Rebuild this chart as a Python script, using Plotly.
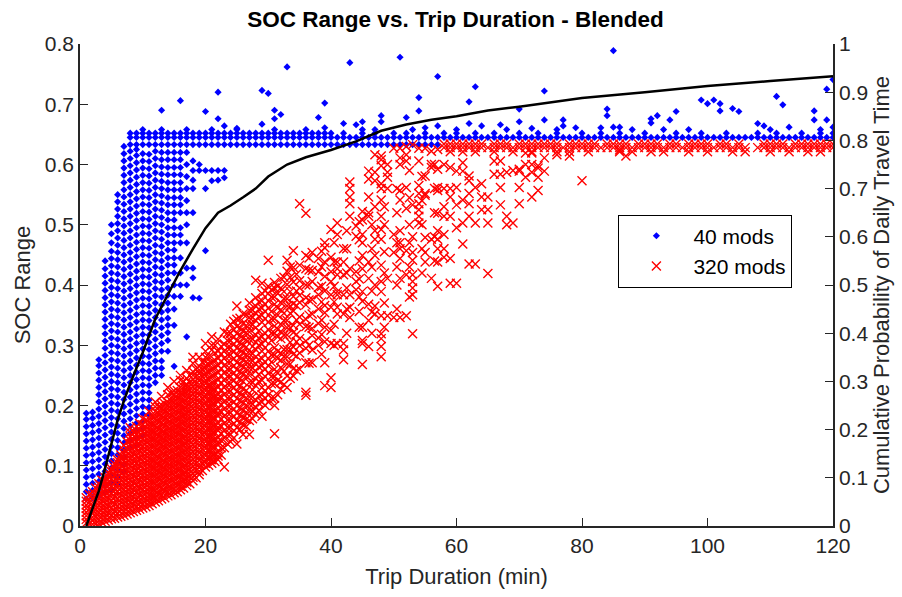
import plotly.graph_objects as go

# ---------------- data ----------------
# 40 mods: dense columns, one string of SOC values (x1000) per trip duration (min)
blue_col_x = list(range(1, 24))
blue_col_y = [
    "45 57 69 81 93 105 117 129 141 153 165 177 187",
    "47 59 71 83 95 107 119 131 143 155 167 179 189",
    "50 62 74 86 98 110 122 134 146 158 170 182 194 206 218 230 242 254 266 276",
    "55 67 79 91 103 115 127 139 151 163 175 187 199 211 223 235 247 259 271 283 295 307 319 331 343 355 367 379 391 403 415 427 440",
    "60 72 84 96 108 120 132 144 156 168 180 192 204 216 228 240 252 264 276 288 300 312 324 336 348 360 372 384 396 408 420 432 444 456 470 485 500",
    "70 82 94 106 118 130 142 154 166 178 190 202 214 226 238 250 262 274 286 298 310 322 334 346 358 370 382 394 406 418 430 442 454 466 478 490 502 514 526 538 550",
    "90 102 114 126 138 150 162 174 186 198 210 222 234 246 258 270 282 294 306 318 330 342 354 366 378 390 402 414 426 438 450 462 474 486 498 510 522 534 546 558 570 582 594 606 618 630",
    "130 142 154 166 178 190 202 214 226 238 250 262 274 286 298 310 322 334 346 358 370 382 394 406 418 430 442 454 466 478 490 502 514 526 538 550 562 574 586 598 610 622",
    "135 147 159 171 183 195 207 219 231 243 255 267 279 291 303 315 327 339 351 363 375 387 399 411 423 435 447 459 471 483 495 507 519 531 543 555 567 579 591 603 615 625",
    "150 162 174 186 198 210 222 234 246 258 270 282 294 306 318 330 342 354 366 378 390 402 414 426 438 450 462 474 486 498 510 522 534 546 558 570 582 594 606 618",
    "185 197 209 221 233 245 257 269 281 293 305 317 329 341 353 365 377 389 401 413 425 437 449 461 473 485 497 509 521 533 545 557 569 581 593 605 617",
    "238 250 262 274 286 298 310 322 334 346 358 370 382 394 406 418 430 442 454 466 478 490 502 514 526 538 550 562 574 586 598 610 622",
    "250 262 274 290 303 316 329 342 355 367 380 392 404 416 428 440 452 464 476 488 500 512 524 536 548 560 572 584 596 608 620",
    "290 308 321 333 345 358 370 383 395 408 420 433 445 458 470 483 495 508 520 533 545 558 570 583 595 608 620",
    "265 333 360 381 400 420 433 445 458 470 483 495 508 520 533 545 558 570 583 595 608 620",
    "381 400 420 445 470 483 495 520 533 545 558 570 583 595 608 620",
    "314 400 428 470 500 520 540 560 580 600 620",
    "379 412 428 520 560 574 590 606",
    "378 590 600",
    "457 560 590",
    "573 590",
    "574 590",
    "578 590",
]
# 40 mods: plateau band, one SOC level per row with the durations where it occurs
blue_band_y = [0.633, 0.645, 0.652, 0.658]
blue_band_x = [
    "8 9 10 11 12 13 14 15 16 17 18 19 20 21 22 23 24 25 26 27 28 29 30 31 32 33 34 35 36 37 38 39 40 41 42 43 44 45 46 47 48 49 50 51 52 53 54 55 56 57",
    "8 9 10 11 12 13 14 15 16 17 18 19 20 21 22 23 24 25 26 27 28 29 30 31 32 33 34 35 36 37 38 39 40 41 42 43 44 45 46 47 48 49 50 51 52 53 54 55 56 57 "
    "58 59 60 61 62 63 64 65 66 67 68 69 70 71 72 73 74 75 76 77 78 79 80 81 82 83 84 85 86 87 88 89 90 91 92 93 94 95 96 97 98 99 100 101 102 103 104 105 106 107 108 109 110 111 112 113 114 115 116 117 118 119 120",
    "8 9 10 11 12 13 14 15 16 17 18 19 20 21 22 23 24 25 26 27 28 29 30 31 32 33 34 35 36 37 38 39 40 42 45 47 50 52 55 58 60 63 66 70 73 76 80 83 86 90 95 99 103 108 111 115 118 120",
    "10 13 17 21 25 31 36 45 53 60 68 76 88 97 110 118",
]
# 40 mods: isolated points above the plateau
blue_out_x = [16, 13, 20, 22, 22, 23, 25, 29, 30, 31, 32, 31, 29, 33, 38, 39, 39, 42, 43, 44, 45, 48, 48, 47,
              51, 52, 54, 54, 55, 57, 57, 62, 63, 62, 64, 67, 70, 70, 72, 74, 74, 77, 77, 79, 84, 84, 83, 85,
              85, 86, 91, 91, 92, 94, 95, 93, 99, 100, 101, 102, 102, 104, 105, 108, 109, 111, 112, 113,
              117, 117, 119, 119, 120, 120]
blue_out_y = [0.706, 0.690, 0.688, 0.720, 0.676, 0.664, 0.660, 0.723, 0.718, 0.690, 0.683, 0.676, 0.667,
              0.762, 0.678, 0.702, 0.661, 0.668, 0.769, 0.666, 0.671, 0.681, 0.671, 0.658, 0.778, 0.678,
              0.711, 0.689, 0.661, 0.746, 0.664, 0.704, 0.729, 0.668, 0.664, 0.666, 0.692, 0.671, 0.660,
              0.722, 0.674, 0.674, 0.664, 0.661, 0.692, 0.681, 0.661, 0.789, 0.662, 0.662, 0.676, 0.669,
              0.681, 0.674, 0.688, 0.658, 0.707, 0.701, 0.707, 0.701, 0.689, 0.693, 0.688, 0.668, 0.664,
              0.713, 0.699, 0.662, 0.689, 0.674, 0.725, 0.674, 0.741, 0.662]

# 320 mods: one string of SOC values (x1000) per trip duration (min)
red_col_x = list(range(1, 75)) + [76, 78, 80, 86, 87]
red_col_y = [
    "5 11 17 23 29 35 41 47",
    "3 9 15 21 27 33 39 45 51 57",
    "4 10 16 22 28 34 40 46 52 58 64 70",
    "8 14 20 26 32 38 44 50 56 62 68 74 80",
    "12 18 24 30 36 42 48 54 60 66 72 78 84 90 95",
    "15 21 27 33 39 45 51 57 63 69 75 81 87 93 99 105 110",
    "18 24 30 36 42 48 54 60 66 72 78 84 90 96 102 108 114 120 126 134",
    "22 28 34 40 46 52 58 64 70 76 82 88 94 100 106 112 118 124 130 136 142 148 155 163",
    "26 32 38 44 50 56 62 68 74 80 86 92 98 104 110 116 122 128 134 140 146 152 158 165",
    "30 36 42 48 54 60 66 72 78 84 90 96 102 108 114 120 126 132 138 144 150 156 162 168 178",
    "34 40 46 52 58 64 70 76 82 88 94 100 106 112 118 124 130 136 142 148 154 160 166 172 178 190",
    "40 46 52 58 64 70 76 82 88 94 100 106 112 118 124 130 136 142 148 154 160 166 172 178 184 190 198 206",
    "45 51 57 63 69 75 81 87 93 99 105 111 117 123 129 135 141 147 153 159 165 171 177 183 189 195 201 215",
    "50 56 62 68 74 80 86 92 98 104 110 116 122 128 134 140 146 152 158 164 170 176 182 188 194 200 206 218 230",
    "55 61 67 73 79 85 91 97 103 109 115 121 127 133 139 145 151 157 163 169 175 181 187 193 199 205 211 217 224 240",
    "60 66 72 78 84 90 96 102 108 114 120 126 132 138 144 150 156 162 168 174 180 186 192 198 204 210 216 222 230 242 250",
    "67 73 79 85 91 97 103 109 115 121 127 133 139 145 151 157 163 169 175 181 187 193 199 205 211 217 223 229 235 245 258",
    "75 81 87 93 99 105 111 117 123 129 135 141 147 153 159 165 171 177 183 189 195 201 207 213 219 225 231 237 243 250 256 270 280",
    "85 91 97 103 109 115 121 127 133 139 145 151 157 163 169 175 181 187 193 199 205 211 217 223 229 235 241 247 253 259 265 280",
    "98 104 110 116 122 128 134 140 146 152 158 164 170 176 182 188 194 200 206 212 218 224 230 236 242 248 254 260 266 272 280 290 303",
    "104 110 116 122 128 134 140 146 152 158 164 170 176 182 188 194 200 206 212 218 224 230 236 248 260 272 292 300 314",
    "110 116 122 134 140 146 158 164 170 182 188 194 206 212 218 230 242 254 266 278 290 310",
    "98 130 146 158 170 182 194 206 218 230 242 254 266 278 290 302 322",
    "140 152 164 176 188 200 212 224 236 248 260 272 284 296 308 320 335",
    "136 163 175 187 199 211 223 235 247 259 271 283 295 307 319 331 343 365",
    "152 168 180 192 204 216 228 240 252 264 276 288 300 312 324 336 352",
    "152 175 190 202 214 238 250 262 274 286 310 322 334 346 358 370",
    "185 197 209 233 245 257 269 281 293 305 317 329 341 353 365 379 408",
    "182 206 218 230 242 266 278 290 302 314 338 350 362 374 386 403",
    "206 218 230 254 266 278 290 314 326 338 362 374 386 398 441",
    "153 200 212 236 248 260 284 296 320 332 344 368 380 395 404",
    "227 239 263 275 287 311 323 335 359 371 395 411",
    "230 249 269 281 293 317 329 341 365 377 401 423 441",
    "249 261 285 297 321 333 357 369 381 405 429 457",
    "260 287 299 311 335 347 371 383 395 407 433 535",
    "217 222 271 295 307 331 343 367 379 400 427 449 519",
    "271 292 316 328 352 376 406 424 454",
    "300 312 336 360 384 396 422 444",
    "233 271 306 330 354 366 390 414 438 462 470",
    "230 246 303 325 363 384 406 422 446 492",
    "303 352 363 384 389 417 427 438 484 503",
    "276 292 303 352 384 417 438 460",
    "346 363 384 427 514 535 546 560 571",
    "392 406 422 481 498",
    "268 303 308 330 373 389 427 449 470 484 508 522",
    "298 341 368 411 438 514 520 546 576 589",
    "352 365 400 449 476 490 530 573 587 616",
    "281 298 311 319 349 389 406 433 476 492 514 541 560 568 598 608 614",
    "349 411 560 579 587 600",
    "346 454 484 627",
    "346 411 444 460 470 490 541 557 600 611 627",
    "349 417 457 527 562 606 616 630",
    "319 384 395 406 417 441 454 480 533 633",
    "503 514 525 535 552 565 606 627",
    "438 454 479 549 552 581 627",
    "411 476 595 600 622",
    "398 438 460 476 490 519 557 562 592 625",
    "446 460 484 514 530 560 600",
    "403 444 514 546 560 595",
    "403 495 533 562 589",
    "468 503 541 589 603",
    "435 514 535 552 573 581",
    "435 503 562",
    "525 546 568",
    "419 503 525 546",
    "584 606",
    "533 562 584 606",
    "500 514 587",
    "503 590",
    "535 562 589 592",
    "579 600 619",
    "546 587 600 619",
    "557 579 594 598",
    "589 611",
    "616", "614", "573", "624", "614",
]
# 320 mods: trips with half-minute durations
red_half_x = [1.5, 2.5, 3.5, 4.5, 5.5, 6.5, 7.5, 8.5, 9.5, 10.5, 11.5, 12.5, 13.5, 14.5, 15.5, 16.5,
              17.5, 18.5, 19.5, 20.5, 21.5, 22.5, 23.5, 24.5, 25.5, 26.5, 27.5, 28.5, 29.5, 30.5, 31.5,
              32.5, 33.5, 34.5, 36.5, 38.5, 40.5, 42.5, 44.5, 46.5, 48.5, 50.5, 52.5, 54.5, 56.5]
red_half_y = [
    "4 16 28 40 52",
    "3 15 27 39 51 63",
    "6 18 30 42 54 66 76",
    "10 22 34 46 58 70 82 88",
    "13 25 37 49 61 73 85 97 103",
    "16 28 40 52 64 76 88 100 112 118",
    "20 32 44 56 68 80 92 104 116 128 140",
    "24 36 48 60 72 84 96 108 120 132 144 156",
    "28 40 52 64 76 88 100 112 124 136 148 160 170",
    "32 44 56 68 80 92 104 116 128 140 152 164 176",
    "37 49 61 73 85 97 109 121 133 145 157 169 181",
    "42 54 66 78 90 102 114 126 138 150 162 174 186 198",
    "47 59 71 83 95 107 119 131 143 155 167 179 191 203",
    "52 64 76 88 100 112 124 136 148 160 172 184 196 208 220",
    "57 69 81 93 105 117 129 141 153 165 177 189 201 213 225",
    "63 75 87 99 111 123 135 147 159 171 183 195 207 219 231 240",
    "70 82 94 106 118 130 142 154 166 178 190 202 214 226 238 250",
    "80 92 104 116 128 140 152 164 176 188 200 212 224 236 248 260",
    "92 104 116 128 140 152 164 176 188 200 212 224 236 248 260 272",
    "101 113 125 137 149 161 173 185 197 209 221 233 245 257 269 281",
    "107 119 131 143 155 167 179 191 203 215 227 239 251 263 275 287 300",
    "118 130 142 154 166 178 190 202 214 226 238 250 262 274 286 298",
    "136 152 164 176 188 200 212 224 236 248 260 272 284 296 308 320",
    "146 158 170 182 194 206 218 230 242 254 266 278 290 302 314 326 340",
    "160 172 184 196 208 220 232 244 256 268 280 292 304 316 328 345",
    "165 177 189 201 213 225 249 261 273 285 297 309 321 333 350",
    "178 190 202 214 226 238 262 274 286 298 310 334 346 358",
    "192 204 216 240 252 264 276 300 312 324 348 360 372",
    "200 212 224 248 260 272 296 308 320 344 356 368 390",
    "212 236 248 272 284 308 320 344 356 380 392",
    "218 242 254 278 290 314 326 350 362 386 398",
    "235 257 281 293 317 341 353 377 389 413",
    "245 269 293 305 329 353 365 389 413 430",
    "258 282 306 318 342 366 390 418",
    "270 300 330 350 375 400 425 445",
    "285 318 342 372 398 430 456",
    "300 335 372 398 438 470",
    "320 360 395 420 460 490",
    "330 356 380 410 440 475 505",
    "320 355 390 430 460 500",
    "330 370 420 455 500 530",
    "360 400 430 470 520 560",
    "380 430 470 500 545 590",
    "420 460 500 540 580",
    "440 480 520 560 600",
]
# 320 mods: plateau band rows
red_band_y = [0.621, 0.628, 0.634]
red_band_x = [
    "59 61 63 66 69 72 76 78 81 86 88 91 93 97 100 104 106 110 113 116 118",
    "58 59 60 61 62 63 64 65 66 67 68 69 70 71 72 73 74 75 76 77 78 79 80 81 82 83 84 85 86 87 88 89 90 91 92 93 94 95 96 97 98 99 100 101 102 103 104 105 106 108 109 110 111 112 113 114 115 116 117 118 119 120",
    "58 59 60 61 62 63 64 66 67 68 70 71 72 73 74 75 76 78 79 80 81 82 84 85 86 87 89 90 91 92 94 95 97 98 99 100 102 103 105 109 110 111 112 114 115 116 117 118 119 120",
]

# cumulative probability of daily travel time (right axis)
cdf_x = [1, 2, 3, 4, 5, 6, 7, 8, 10, 12, 14, 16, 18, 20, 22, 24, 26, 28, 30, 33, 36, 40, 44, 48,
         52, 56, 60, 65, 70, 75, 80, 90, 100, 110, 120]
cdf_y = [0.0, 0.035, 0.073, 0.12, 0.17, 0.22, 0.26, 0.295, 0.36, 0.43, 0.48, 0.53, 0.575, 0.618,
         0.65, 0.665, 0.682, 0.70, 0.725, 0.75, 0.765, 0.78, 0.798, 0.82, 0.833, 0.843, 0.85, 0.862,
         0.87, 0.879, 0.888, 0.90, 0.913, 0.923, 0.933]

x_ticks = [0, 20, 40, 60, 80, 100, 120]


# ---------------- assemble ----------------
def from_columns(xs, strs):
    X, Y = [], []
    for x, s in zip(xs, strs):
        for v in s.split():
            X.append(x)
            Y.append(int(v) / 1000)
    return X, Y


def from_rows(ys, strs):
    X, Y = [], []
    for y, s in zip(ys, strs):
        for v in s.split():
            X.append(int(v))
            Y.append(y)
    return X, Y


bx1, by1 = from_columns(blue_col_x, blue_col_y)
bx2, by2 = from_rows(blue_band_y, blue_band_x)
bx = bx1 + bx2 + blue_out_x
by = by1 + by2 + blue_out_y
rx1, ry1 = from_columns(red_col_x, red_col_y)
rx3, ry3 = from_columns(red_half_x, red_half_y)
rx2, ry2 = from_rows(red_band_y, red_band_x)
rx = rx1 + rx3 + rx2
ry = ry1 + ry3 + ry2

FONT = "Liberation Sans, Arial, Helvetica, sans-serif"
AX = "#262626"

fig = go.Figure()
fig.add_trace(go.Scatter(
    x=bx, y=by, mode="markers", name="40 mods",
    marker=dict(symbol="diamond", size=5.5, color="#0000ff", line=dict(width=0)),
))
fig.add_trace(go.Scatter(
    x=rx, y=ry, mode="markers", name="320 mods",
    marker=dict(symbol="x-thin", size=9, color="#ff0000", line=dict(width=1.4, color="#ff0000")),
))
fig.add_trace(go.Scatter(
    x=cdf_x, y=cdf_y, mode="lines", yaxis="y2", showlegend=False,
    line=dict(color="black", width=2.5),
))

axis_common = dict(
    showline=True, linecolor=AX, linewidth=1.5, ticks="inside", ticklen=8, tickwidth=1.2,
    tickcolor=AX, showgrid=False, zeroline=False, tickfont=dict(size=21, color=AX, family=FONT),
)
fig.update_layout(
    width=902, height=597,
    margin=dict(l=80, r=67, t=44, b=60),
    paper_bgcolor="white", plot_bgcolor="white",
    font=dict(family=FONT, color="black"),
    title=dict(text="<b>SOC Range vs. Trip Duration - Blended</b>", x=0.505, xanchor="center",
               y=0.968, yanchor="middle", yref="container", font=dict(size=22.5, color="black")),
    xaxis=dict(range=[0, 120], tickvals=x_ticks, mirror=False,
               title=dict(text="Trip Duration (min)", font=dict(size=22, color=AX), standoff=13),
               **axis_common),
    yaxis=dict(range=[0, 0.8], dtick=0.1, tick0=0,
               title=dict(text="SOC Range", font=dict(size=22, color=AX), standoff=8),
               **axis_common),
    yaxis2=dict(range=[0, 1], dtick=0.1, tick0=0, overlaying="y", side="right",
                title=dict(text="Cumulative Probability of Daily Travel Time",
                           font=dict(size=22, color=AX), standoff=6),
                **axis_common),
    legend=dict(x=0.715, y=0.646, xanchor="left", yanchor="top", bgcolor="white",
                bordercolor="black", borderwidth=1, font=dict(size=21, color="black"),
                itemwidth=64, tracegroupgap=0),
    showlegend=True,
)

fig.write_html("out.html")
